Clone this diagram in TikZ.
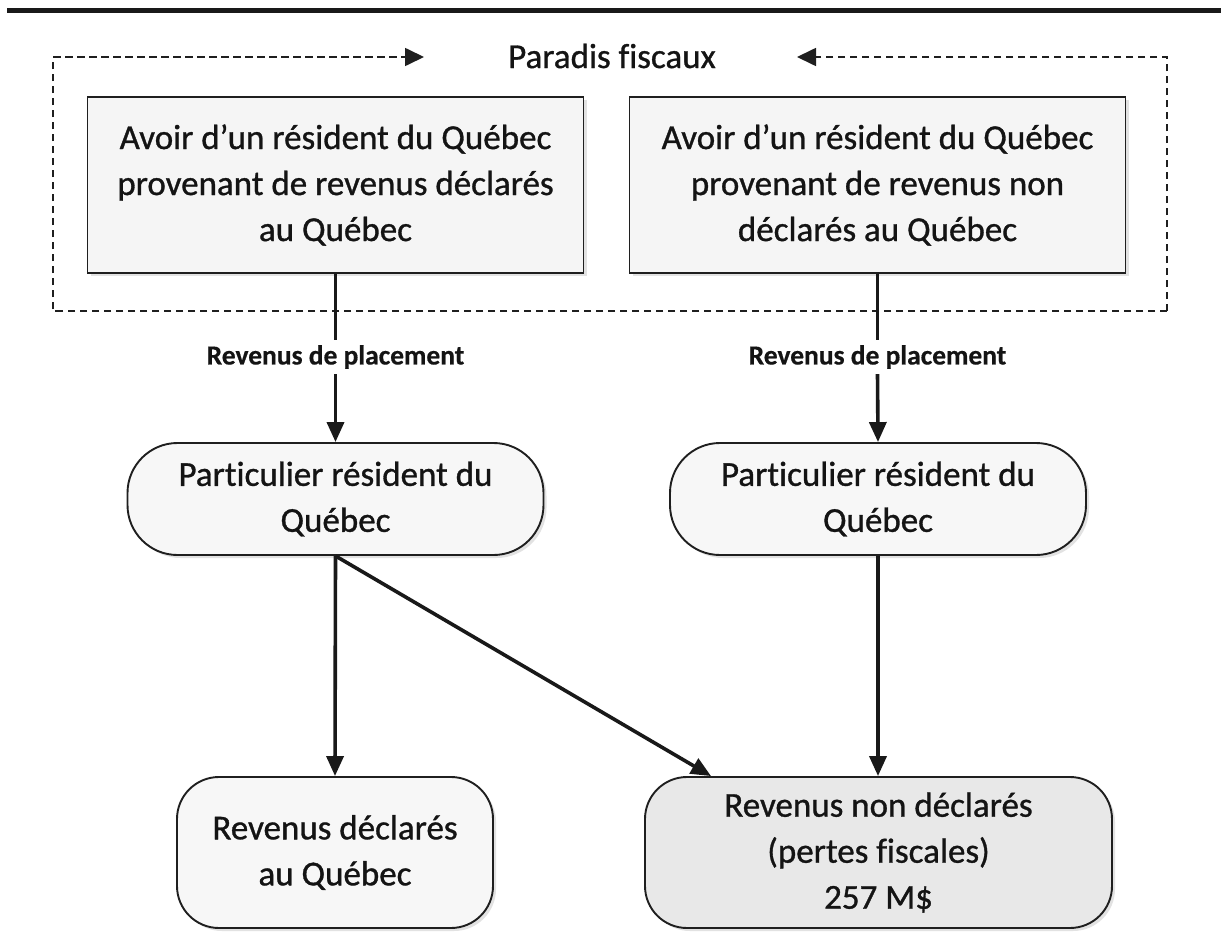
\documentclass[tikz,border=0pt]{standalone}
\usepackage{fontspec}
\setmainfont{Carlito}[Ligatures={NoCommon}, FakeBold=0.9, BoldFeatures={FakeBold=0.5}]
\usetikzlibrary{arrows.meta,shadows}

\begin{document}
\begin{tikzpicture}[x=1pt,y=-1pt,
  txt/.style={font=\fontsize{35}{46}\selectfont, align=center, text=black!92},
  shade box/.style={drop shadow={shadow xshift=3pt, shadow yshift=-3pt, fill=black!25, opacity=.45}},
  avoirbox/.style={txt, shade box, draw=black!88, line width=1.9pt, fill=black!4,
    minimum width=496pt, minimum height=176pt, inner sep=0pt},
  personbox/.style={txt, shade box, draw=black!88, line width=1.9pt, fill=black!3,
    rounded corners=50pt, minimum width=416pt, minimum height=112pt, inner sep=0pt},
  declbox/.style={txt, shade box, draw=black!88, line width=1.9pt, fill=black!3,
    rounded corners=42pt, minimum height=151pt, inner sep=0pt},
  flowlabel/.style={font=\bfseries\fontsize{27.5}{32}\selectfont, text=black!92, inner sep=5pt},
  flow/.style={line width=3.6pt, draw=black!90},
  flowarrow/.style={flow, -{Triangle[length=20pt,width=17pt]}},
  frame/.style={line width=1.7pt, draw=black!88, dash pattern=on 7.5pt off 4.5pt},
  framearrow/.style={frame, -{Triangle[length=19pt,width=18pt]}}
]
\useasboundingbox (0,0) rectangle (1221,937);

% heading rule
\draw[line width=5pt, black!90] (7,10) -- (1221,10);

% dashed frame around the offshore holdings
\coordinate (fTL) at (53,57);
\coordinate (fTR) at (1167,57);
\coordinate (fBL) at (53,311);
\coordinate (fBR) at (1167,311);
\coordinate (tipL) at (424,57);
\coordinate (tipR) at (797,57);
\draw[framearrow] (fBR) -- (fBL) -- (fTL) -- (tipL);
\draw[framearrow] (fBR) -- (fTR) -- (tipR);
\node[txt] (para) at (612,56) {Paradis fiscaux};

% holdings
\node[avoirbox] (avoirD) at (335.5,185) {Avoir d’un résident du Québec\\provenant de revenus déclarés\\au Québec};
\node[avoirbox] (avoirN) at (877.5,185) {Avoir d’un résident du Québec\\provenant de revenus non\\déclarés au Québec};

% investment income labels
\node[flowlabel] (labD) at (335.5,357) {Revenus de placement};
\node[flowlabel] (labN) at (877.5,357) {Revenus de placement};

% residents
\node[personbox] (partD) at (335.5,499) {Particulier résident du\\Québec};
\node[personbox] (partN) at (878,499) {Particulier résident du\\Québec};

% outcomes
\node[declbox, minimum width=316pt] (decl) at (335,852.5) {Revenus déclarés\\au Québec};
\node[declbox, minimum width=467pt, fill=black!9] (nondecl) at (878.5,852.5) {Revenus non déclarés\\(pertes fiscales)\\257 M\$};

% flows
\draw[flow] (avoirD.south) -- (labD.north);
\draw[flowarrow] (labD.south) -- (partD.north);
\draw[flow] (avoirN.south) -- (labN.north);
\draw[flowarrow] (labN.south) -- (partN.north);
\draw[flowarrow] (partD.south) -- (decl.north);
\draw[flowarrow] (partD.south) -- ([xshift=67pt]nondecl.north west);
\draw[flowarrow] (partN.south) -- (partN.south |- nondecl.north);
\end{tikzpicture}
\end{document}
